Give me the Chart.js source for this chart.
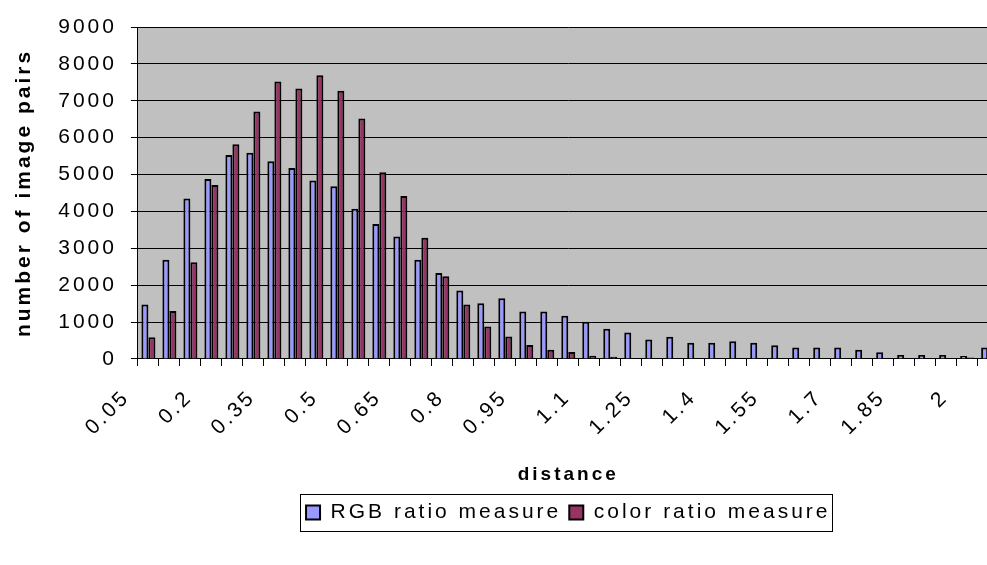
<!DOCTYPE html>
<html>
<head>
<meta charset="utf-8">
<script src="https://cdn.jsdelivr.net/npm/chart.js@4"></script>
</head>
<body style="margin:0;overflow:hidden;background:#fff">
<canvas id="myChart" width="1025" height="565"></canvas>
<script>
const distances = ['0.05', '0.1', '0.15', '0.2', '0.25', '0.3', '0.35', '0.4', '0.45', '0.5',
  '0.55', '0.6', '0.65', '0.7', '0.75', '0.8', '0.85', '0.9', '0.95', '1',
  '1.05', '1.1', '1.15', '1.2', '1.25', '1.3', '1.35', '1.4', '1.45', '1.5',
  '1.55', '1.6', '1.65', '1.7', '1.75', '1.8', '1.85', '1.9', '1.95', '2', '2.05'];

const rgbRatio = [1480, 2690, 4350, 4880, 5530, 5590, 5360, 5180, 4840, 4680,
  4070, 3660, 3320, 2690, 2330, 1860, 1510, 1650, 1290, 1290,
  1170, 1010, 820, 720, 530, 600, 440, 440, 480, 440,
  370, 310, 310, 310, 250, 180, 110, 110, 110, 80, 310];

const colorRatio = [590, 1300, 2620, 4720, 5820, 6710, 7520, 7330, 7690, 7270,
  6520, 5060, 4420, 3290, 2240, 1480, 880, 610, 380, 250,
  190, 90, 60, 0, 0, 0, 0, 0, 0, 0,
  0, 0, 0, 0, 0, 0, 0, 0, 0, 40, 0];

const yTicks = [0, 1000, 2000, 3000, 4000, 5000, 6000, 7000, 8000, 9000];

// gray plot area like the old Excel chart
const plotFill = {
  id: 'plotFill',
  beforeDraw(chart) {
    const a = chart.chartArea;
    const ctx = chart.ctx;
    ctx.save();
    ctx.fillStyle = '#c0c0c0';
    ctx.fillRect(a.left, a.top, a.right - a.left, a.bottom - a.top);
    ctx.restore();
  }
};

// wide letter spacing of the original text
const spacing = {
  id: 'spacing',
  beforeLayout(chart) { chart.ctx.letterSpacing = '3px'; },
  beforeDraw(chart) { chart.ctx.letterSpacing = '3px'; }
};

// frame around the legend
const legendFrame = {
  id: 'legendFrame',
  afterDraw(chart) {
    const boxes = chart.legend.legendHitBoxes;
    if (!boxes || !boxes.length) return;
    let l = Infinity, r = -Infinity, t = Infinity, b = -Infinity;
    boxes.forEach(h => {
      l = Math.min(l, h.left); r = Math.max(r, h.left + h.width);
      t = Math.min(t, h.top); b = Math.max(b, h.top + h.height);
    });
    const ctx = chart.ctx;
    ctx.save();
    ctx.strokeStyle = '#000';
    ctx.lineWidth = 1;
    ctx.strokeRect(Math.round(l - 6) + 0.5, Math.round(t - 8) + 0.5, Math.round(r - l + 8), Math.round(b - t + 16));
    ctx.restore();
  }
};

Chart.defaults.font.family = '"Liberation Sans", Arial, sans-serif';
Chart.defaults.font.size = 21;
Chart.defaults.color = '#000';

const ctx = document.getElementById('myChart').getContext('2d');
const myChart = new Chart(ctx, {
  type: 'bar',
  data: {
    labels: distances,
    datasets: [
      {
        label: 'RGB ratio measure',
        data: rgbRatio,
        backgroundColor: '#9999ff',
        borderColor: '#000',
        borderWidth: 2,
        categoryPercentage: 0.667,
        barPercentage: 1.0
      },
      {
        label: 'color ratio measure',
        data: colorRatio,
        backgroundColor: '#993366',
        borderColor: '#000',
        borderWidth: 2,
        categoryPercentage: 0.667,
        barPercentage: 1.0
      }
    ]
  },
  options: {
    responsive: false,
    animation: false,
    layout: { padding: { left: 8, top: 27, right: 3, bottom: 32 } },
    plugins: {
      legend: {
        position: 'bottom',
        fullSize: false,
        labels: { boxWidth: 14, boxHeight: 14, padding: 8, font: { size: 21 } }
      },
      tooltip: { enabled: false }
    },
    scales: {
      x: {
        grid: { display: true, drawOnChartArea: false, drawTicks: true, tickLength: 7, color: '#000' },
        border: { color: '#000', width: 1 },
        ticks: {
          autoSkip: false,
          maxRotation: 45,
          minRotation: 45,
          padding: 19,
          labelOffset: -22,
          callback: function (val, i) {
            return i % 3 === 0 ? distances[i] : '';
          }
        },
        title: {
          display: true,
          text: 'distance',
          font: { size: 19, weight: 'bold' },
          padding: { top: 4, bottom: 8 }
        }
      },
      y: {
        min: 0,
        max: 9000,
        afterBuildTicks: function (axis) {
          axis.ticks = yTicks.map(v => ({ value: v }));
        },
        grid: { color: '#000', lineWidth: 1, tickLength: 7 },
        border: { color: '#000', width: 1 },
        ticks: {
          padding: 14,
          callback: function (val) { return String(val); }
        },
        title: {
          display: true,
          text: 'number of image pairs',
          font: { size: 21, weight: 'bold' },
          padding: { top: 4, bottom: 7 }
        }
      }
    }
  },
  plugins: [plotFill, spacing, legendFrame]
});
</script>
</body>
</html>
